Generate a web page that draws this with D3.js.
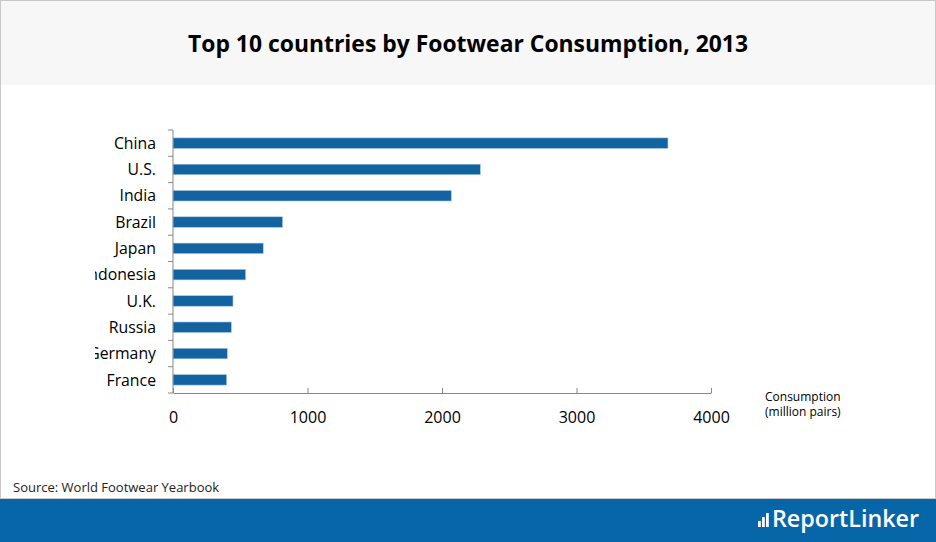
<!DOCTYPE html>
<html><head><meta charset="utf-8">
<script src="https://cdn.jsdelivr.net/npm/d3@7/dist/d3.min.js"></script>
<style>body{margin:0;background:#fff}svg{display:block}</style>
</head><body><svg id="c" width="936" height="542"></svg>
<script>
const countries = ["China","U.S.","India","Brazil","Japan","Indonesia","U.K.","Russia","Germany","France"];
const consumption = [3680,2285,2069,815,671,540,446,434,404,399];
const xTicks = [0,1000,2000,3000,4000];
const title = "Top 10 countries by Footwear Consumption, 2013";
const axisTitle = ["Consumption","(million pairs)"];
const source = "Source: World Footwear Yearbook";

const svg = d3.select("#c");
const W = 936, H = 542;
svg.append("rect").attr("x",0).attr("y",0).attr("width",W).attr("height",H).attr("fill","#fff");
svg.append("rect").attr("x",0).attr("y",0).attr("width",W).attr("height",85).attr("fill","#f7f7f7");
svg.append("rect").attr("x",0.5).attr("y",0.5).attr("width",W-1).attr("height",H-1).attr("fill","none").attr("stroke","#c8c8c8");
svg.append("text").attr("x",468).attr("y",52).attr("text-anchor","middle")
  .attr("font-family","Open Sans").attr("font-weight","bold").attr("font-size",23)
  .attr("textLength",560).attr("lengthAdjust","spacingAndGlyphs").attr("fill","#000").text(title);

const x = d3.scaleLinear().domain([0,4000]).range([173,711]);
const y = d3.scaleBand().domain(countries).range([130,393]).paddingInner(0.6).paddingOuter(0.3);

svg.append("defs").append("clipPath").attr("id","lc").append("rect")
  .attr("x",95).attr("y",100).attr("width",200).attr("height",320);

// bars
svg.append("g").selectAll("rect").data(countries).join("rect")
  .attr("x",x(0)).attr("y",d=>y(d)).attr("height",y.bandwidth())
  .attr("width",(d,i)=>x(consumption[i])-x(0))
  .attr("fill","#1463a1").attr("stroke","#a9c8e6").attr("stroke-width",0.6);

// y axis
const ya = svg.append("g").attr("transform","translate(173,0)");
ya.append("line").attr("x1",0).attr("x2",0).attr("y1",130).attr("y2",393).attr("stroke","#888");
const bnds = d3.range(countries.length+1).map(i=>130+i*(263/countries.length));
ya.selectAll("line.t").data(bnds).join("line").attr("class","t")
  .attr("x1",-5).attr("x2",0).attr("y1",d=>d).attr("y2",d=>d).attr("stroke","#888");
svg.append("g").attr("clip-path","url(#lc)").selectAll("text").data(countries).join("text")
  .attr("x",156).attr("y",d=>y(d)+y.bandwidth()/2).attr("dy","0.36em")
  .attr("text-anchor","end").attr("font-family","Open Sans").attr("font-size",15.8)
  .attr("fill","#000").text(d=>d);

// x axis
const xa = svg.append("g").attr("transform","translate(0,393)")
  .call(d3.axisBottom(x).tickValues(xTicks).tickSize(5).tickSizeOuter(0).tickFormat(d3.format("d")));
xa.select(".domain").attr("stroke","#888");
xa.selectAll(".tick line").attr("stroke","#888").attr("y1",-5).attr("y2",0);
xa.selectAll(".tick text").attr("y",30).attr("dy","0").attr("font-family","Open Sans").attr("font-size",16).attr("fill","#000");

svg.append("text").attr("font-family","Open Sans").attr("font-size",12).attr("fill","#000")
  .selectAll("tspan").data(axisTitle).join("tspan")
  .attr("x",765).attr("y",(d,i)=>401+i*14.5).text(d=>d);

svg.append("text").attr("x",13).attr("y",492).attr("font-family","Open Sans").attr("font-size",13)
  .attr("fill","#222").text(source);

// footer
svg.append("rect").attr("x",0).attr("y",499).attr("width",W).attr("height",H-499).attr("fill","#0766a8");
svg.append("line").attr("x1",0).attr("x2",W).attr("y1",498.5).attr("y2",498.5).attr("stroke","#c8c8c8");
const lg = svg.append("g").attr("fill","#fff");
[[758,6],[762,10],[766,14]].forEach(([bx,h])=>lg.append("rect").attr("x",bx).attr("y",527-h).attr("width",2.8).attr("height",h));
lg.append("text").attr("x",772).attr("y",527).attr("font-family","Open Sans").attr("font-weight",600).attr("font-size",23)
  .attr("textLength",147).attr("lengthAdjust","spacingAndGlyphs").text("ReportLinker");
</script></body></html>
